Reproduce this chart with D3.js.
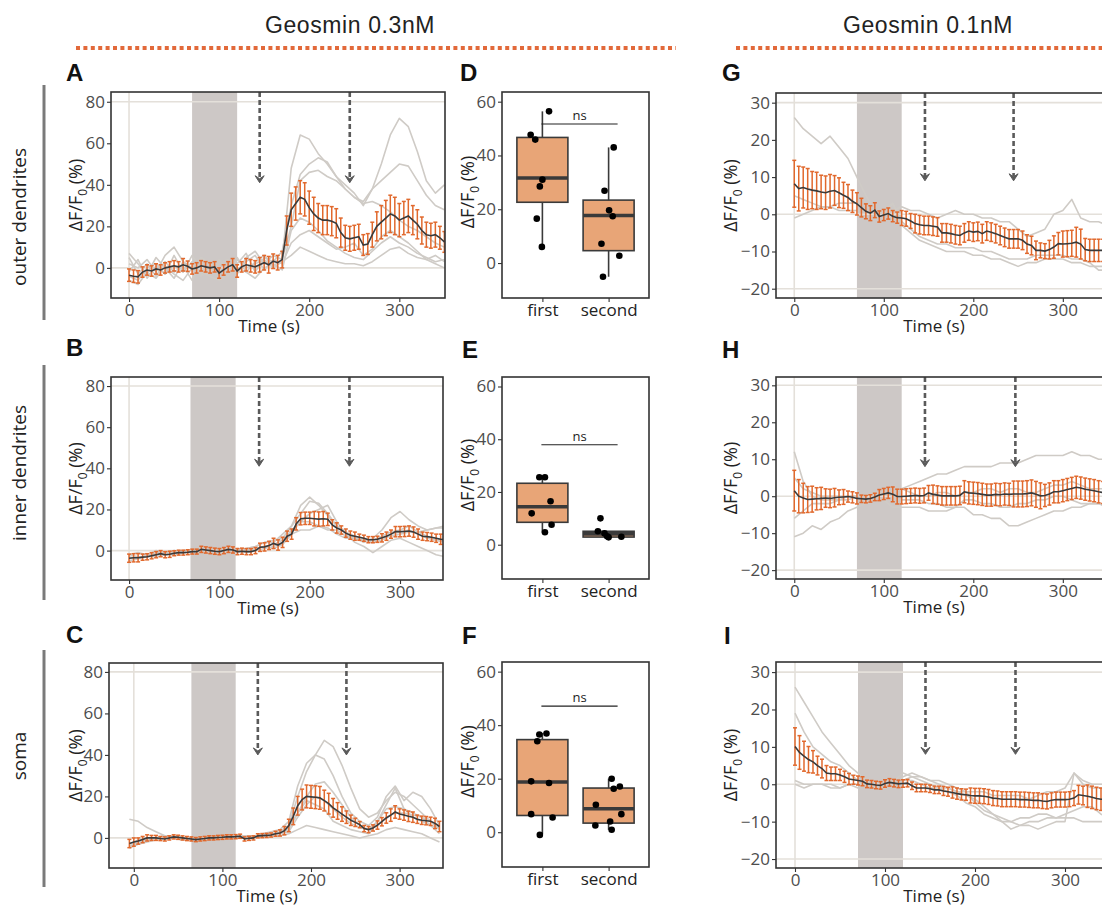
<!DOCTYPE html>
<html>
<head>
<meta charset="utf-8">
<script src="https://cdn.jsdelivr.net/npm/d3@7"></script>
<style>
  body { margin: 0; background: #fff; }
  svg { display: block; }
</style>
</head>
<body>
<svg id="fig" width="1102" height="909"></svg>
<script>
// ---- sampling grids (s) ----
const tFine = d3.range(0, 351, 5);     // mean / sem every 5 s
const tCoarse = d3.range(0, 351, 10);  // single traces every 10 s

// ---- A: outer dendrites, 0.3 nM ----
const aMean = [-3.5,-4,-4.3,-2,-1,-1.5,-0.5,-1,0,0.5,
  1,0.5,1.5,0.8,-0.5,0,1,0.5,0,0.5,
  -2.5,-1,0.5,1.5,-1.5,0.5,1.5,1,0.5,1.5,
  2.5,1.5,3.2,2.5,4,18,28,31,34,33,
  29,26,24,23,23,22.5,21.5,17,14.5,14,
  14.5,15,11,11.5,16,20,22,24,26,25,
  23,24,25,23,21,18,16,15.5,16,14.5,
  12.5];
const aErr = [3,3,3,2.5,2.5,2.5,2.5,2.5,2.5,2.5,
  2.5,2.5,3,2.5,2.5,2.5,2.5,2.5,2.5,2.5,
  2.5,2.5,2.5,3,3,2.5,3,3,3,3.5,
  3.5,4,3.5,3.5,4,7,8,8,8,8,
  8,8,7,7,7,7,7,7,6,6,
  6,6,5,5,6,7,8,8.5,9,9,
  8,8,8,7,7,6.5,6,6,6,5.5,
  5];
const aTraces = [
  [5,-3,2,-4,3,-2,1,-6,2,-1, 4,0,-3,5,8,2,6,4,48,64, 62,55,50,44,38,34,31,32,30,27, 23,20,18,15,12,10],
  [-2,4,-5,1,-3,6,-2,3,-4,0, -3,2,5,-2,3,6,1,4,20,42, 46,47,44,42,38,34,32,38,50,64, 72,68,56,42,36,40],
  [7,2,-3,5,0,-5,3,-1,5,2, 0,-4,2,7,-2,5,3,8,30,45, 50,53,51,44,40,36,30,38,42,46, 50,49,42,35,30,28],
  [-6,-8,-2,-5,1,-3,-6,0,-2,-4, -6,-3,0,-2,-5,0,2,-1,18,24, 22,18,13,10,7,5,4,8,12,15, 12,10,7,5,3,4],
  [2,0,4,-2,6,10,3,0,-3,1, 3,-2,4,0,2,4,0,3,6,10, 8,6,4,3,2,2,1,3,6,9, 10,7,5,4,6,3],
  [-4,-6,0,2,-3,1,-2,6,0,-2, 2,4,-1,3,6,-1,4,2,12,16, 18,15,12,9,10,12,6,9,15,18, 15,12,8,4,2,0]
];

// ---- B: inner dendrites, 0.3 nM ----
const bMean = [-3.7,-3.5,-3.5,-3.2,-3,-2.5,-2,-1.5,-2,-1.8,
  -1.3,-1,-1,-0.8,-0.5,-0.5,0.6,0.3,0,-0.3,
  -0.5,0,0.6,0.3,-0.5,-0.3,-0.5,-0.5,0,1.6,
  1.8,2.5,3.5,2.7,4,7,8,13,15.5,15.7,
  15.7,15.5,15.3,15.5,15.2,12.5,11,10,8.5,7.5,
  7,6.5,6,5.3,5.3,5.5,6.2,7,8,9.2,
  9.2,9.3,9.5,9,8,7,6.8,6.5,6,5.5,
  5.2];
const bErr = [2,2,2,1.5,1.5,1.5,1.5,1.5,1.5,1.5,
  1.2,1.2,1.2,1.2,1.2,1.2,1.5,1.5,1.5,1.5,
  1.5,1.5,1.5,1.5,1.5,1.5,1.5,1.5,1.5,2,
  2,2,2.5,2.5,2.5,2.5,2.5,3,3,3,
  3,3.5,3.5,3.5,3,2.5,2.5,2,2,2,
  2,1.5,1.5,1.5,1.5,1.5,2,2,2,2.5,
  2.5,2.5,2.5,2.5,2.5,2,2,2,2,2.5,
  2.5];
const bTraces = [
  [-2,-1,-2,0,-1,0,-1,0,1,0, 1,0,0,1,2,4,5,6,12,22, 26,22,17,12,9,6,4,6,10,16, 19,15,12,10,11,12],
  [-5,-4,-3,-3,-2,-2,-1,0,0,-1, -1,0,-1,0,1,2,3,5,10,14, 18,20,22,14,8,4,2,-1,2,5, 6,4,2,0,-2,-3],
  [-3,-4,-2,-2,-1,0,-1,-1,0,1, 0,1,0,1,2,4,4,8,12,18, 24,23,18,12,9,7,6,5,7,9, 10,12,9,7,5,6],
  [-4,-3,-3,-1,-1,-1,0,0,1,0, -1,0,1,0,1,2,1,3,8,10, 10,12,11,8,6,6,5,4,5,8, 9,10,8,6,5,4],
  [-2,-3,-3,-2,-2,-1,-1,0,0,0, 0,0,0,-1,0,1,2,4,9,14, 14,12,10,10,7,6,5,5,6,7, 8,9,9,10,11,11]
];

// ---- C: soma, 0.3 nM (time axis of this panel starts at -5 s) ----
const cMean = [-2.7,-2,-1.5,-0.8,0,0,0,-0.3,-0.5,0,
  0.5,0.3,0,-0.3,-0.5,-0.8,-0.5,-0.3,0,0,
  0.2,0.3,0.5,0.5,0.6,0.8,-0.5,-0.2,0,1,
  1.1,1.2,1.4,2,2.4,3.5,6,10.4,15.5,18.5,
  20,19.8,19.6,19.3,18,16.5,14.5,13,11.5,10,
  8.5,7.5,6.4,4.5,4,4.8,6.2,7.8,9.6,11,
  12.5,11.5,11,10.4,10,9,8.5,8.3,8,7,
  5.5];
const cErr = [2,2,1.5,1.5,1.5,1.2,1.2,1,1,1,
  1,1,1,1,1,1,1,1,1,1,
  1,1,1,1,1,1,1,1,1,1,
  1,1,1,1.2,1.5,2,3,4,4.5,5,
  5.5,5.5,5.5,5.5,5,5,4.5,4,3.5,3,
  2.5,2,1.5,1.5,1.5,1.5,2,2,2.5,3,
  3,2.5,2.5,2.5,2.5,2,2,2,2,2.5,
  2.5];
const cTraces = [
  [-4,-2,-1,0,0,1,0,-1,0,0, 0,1,0,0,1,1,2,3,6,20, 32,40,47,44,35,24,14,10,12,18, 22,20,16,12,8,6],
  [-3,-1,0,0,1,0,-1,0,0,1, 0,0,1,1,0,2,3,4,8,25, 36,40,38,30,20,12,8,6,10,20, 25,18,22,20,14,6],
  [9,8,5,3,1,0,0,-1,0,0, 0,1,0,0,0,1,1,2,4,12, 20,26,27,22,16,10,6,4,8,14, 15,14,12,10,6,2],
  [-5,-3,-2,-1,0,0,0,0,1,0, 0,0,0,1,1,1,2,2,3,10, 16,20,18,14,10,7,5,4,6,10, 12,12,11,10,8,4],
  [-4,-3,-1,0,0,0,-1,0,0,0, 0,0,0,0,0,1,1,1,2,4, 6,5,4,3,2,1,0,1,2,4, 5,4,3,2,0,-2],
  [-3,-2,-1,0,1,0,0,-1,0,0, 1,0,0,1,0,1,2,2,5,12, 18,16,14,8,6,4,3,2,8,16, 24,14,10,8,6,5]
];

// ---- G: outer dendrites, 0.1 nM ----
const gMean = [8.2,6.9,7.2,6.8,6.5,6.3,6,5.8,6.2,6.4,
  5.8,5.1,4.5,3.5,2.8,1.8,0.8,0.3,1.1,-0.6,
  -0.2,0.2,-0.5,-0.9,-1,-1.2,-1.8,-2.5,-2.8,-3,
  -3,-3.2,-3.4,-5,-5,-5.2,-5.5,-5.7,-5,-4.5,
  -4.8,-4.6,-5.2,-4.5,-4.8,-5.2,-5.7,-6.2,-6.6,-6.6,
  -6.6,-7,-8,-8.4,-9.7,-9.7,-9.9,-9.5,-8.8,-7.9,
  -8,-7.9,-7.8,-7.5,-8,-9.5,-9.7,-9.7,-9.7,-9.7,
  -9.8];
const gErr = [6.3,6,5.5,5.5,5,5,4.5,4.5,4.5,4,
  4,3.5,3.5,3,3,2.5,2,2,2,1.5,
  1.5,1.5,1.5,1.5,2,2,2,2.5,2.5,2.5,
  2.5,2.5,2.5,2.5,2.5,2.5,2.5,2.5,2.5,2.5,
  2.5,2.5,2.5,2.5,2.5,2.5,2.5,2.5,2.5,2.5,
  2.5,2.5,2.5,2.5,2.5,2,2,2.5,3,3,
  3.5,3.5,3.5,4,4,3,3,3,3,3,
  3];
const gTraces = [
  [26,23,21,19,21,18,15,10,5,1, 0,3,-3,-5,-7,-8,-9,-10,-10,-10, -11,-11,-12,-12,-13,-14,-13,-13,-12,-12, -12,-13,-13,-14,-14,-14],
  [-1,0,1,2,2,3,3,3,2,1, 0,1,2,1,1,0,-1,0,1,0, 0,-1,-1,-2,-2,-4,-6,-5,-4,0, 1,4,-1,-2,-2,-3],
  [5,4,3,2,2,1,1,1,1,0, 1,3,-2,-4,-6,-7,-8,-8,-9,-9, -9,-10,-10,-11,-12,-12,-12,-11,-11,-11, -11,-12,-12,-13,-15,-15]
];

// ---- H: inner dendrites, 0.1 nM ----
const hMean = [1.5,0,-0.5,-0.9,-0.8,-0.7,-0.6,-0.5,-0.6,-0.4,
  -0.3,-0.2,-0.1,-0.3,-0.6,-0.7,-0.8,-0.6,-0.2,0.3,
  0.6,0.9,0.5,-0.1,-0.1,0,0.1,0.2,0.1,0.2,
  0.9,0.5,0.3,0.1,0.1,0.1,0.1,0.2,1.2,0.9,
  0.8,0.7,0.5,0.3,0.3,0.5,0.4,0.6,0.5,0.6,
  0.6,0.6,0.7,0.9,0.5,0.1,0.2,0.6,1.2,1.2,
  1.5,1.8,2.1,2.4,2.2,1.9,1.7,1.5,1.2,1,
  0.8];
const hErr = [5.5,4.5,4,3.5,3.5,3,3,2.5,2.5,2.5,
  2,2,1.5,1.5,1.5,1,1,1,1,1.5,
  1.5,1.5,2,2,2,2,2,2,2,2,
  2,2.5,2.5,2.5,2.5,2.5,2.5,2.5,3,3,
  3,3,3,3,3,3,3,3,3,3.5,
  3.5,3.5,3.5,3.5,3.5,3.5,3,3,3,3,
  3,3,3,3,3,3,3,3,3,3,
  3];
const hTraces = [
  [12,4,0,-1,-1,-1,0,0,0,1, 1,1,2,3,4,5,6,6,7,8, 8,8,8,9,9,9,10,11,11,11, 11,12,11,11,10,10],
  [-11,-10,-8,-9,-7,-6,-4,-3,-2,0, -1,-3,-3,-3,-3,-4,-4,-4,-3,-3, -5,-5,-6,-6,-8,-8,-7,-6,-5,-4, -4,-3,-3,-2,-2,-3],
  [-6,-4,-2,-2,-2,-1,-1,0,-1,0, 1,0,-1,-1,-1,-2,-2,-3,-3,-1, -1,-2,-2,-3,-3,-2,-2,-1,-1,0, 0,-1,-2,-2,-2,-3],
  [5,2,1,0,0,0,0,0,-1,0, 1,1,2,1,0,0,1,1,0,1, 1,2,2,1,2,2,1,1,2,3, 3,4,3,2,2,2]
];

// ---- I: soma, 0.1 nM ----
const iMean = [10.1,8.5,7.5,6.6,6,5,4.2,3,2.8,2.8,
  2.5,2,1.4,1.2,1,0.8,0.1,0,-0.2,-0.3,
  0.2,0.5,0.3,0.1,0.2,0.3,-0.4,-1,-1,-1,
  -1.2,-1.5,-1.5,-1.8,-2,-2.2,-2.5,-2.7,-2.8,-3,
  -3.1,-3.1,-3.2,-3.4,-3.7,-3.8,-4,-4,-4,-4,
  -4.1,-4.1,-4.2,-4.3,-4.3,-4.5,-4.6,-4.3,-4.1,-4.1,
  -4.1,-4,-3.7,-2.8,-3,-3.2,-3.5,-3.8,-4,-4.1,
  -4.2];
const iErr = [5,4.5,4,3.5,3,2.5,2.5,2,1.8,1.8,
  1.5,1.5,1.5,1.2,1.2,1.2,1,1,1,1,
  1,1,1,1,1,1,1,1,1,1,
  1,1,1,1.2,1.2,1.5,1.5,1.5,1.5,2,
  2,2,2,2,2,2,2,2,2,2,
  2,2,2,2,2,2,2,2,2,2,
  2,2,2,2.5,2.5,3,3,3,3,3,
  3];
const iTraces = [
  [26,22,18,14,11,8,5,3,1,0, -1,0,1,2,1,0,-1,-2,-3,-5, -6,-8,-9,-10,-10,-9,-9,-8,-8,-9, -9,-9,-10,-10,-10,-10],
  [19,14,10,8,6,5,3,1,0,-1, 0,0,2,3,2,1,0,-1,-2,-3, -4,-6,-8,-9,-10,-11,-10,-10,-9,-9, -8,-7,-6,-6,-8,-9],
  [1,0,0,0,0,-1,0,0,0,-1, 0,1,3,2,2,1,1,0,-1,-2, -5,-7,-8,-10,-12,-11,-11,-12,-11,-10, -10,3,0,-1,-1,-2],
  [0,-1,0,0,-1,-1,0,-1,0,-1, 0,0,1,1,0,-1,-1,-1,-2,-2, -2,-2,-3,-3,-3,-3,-4,-3,-2,-2, -1,3,1,0,0,0]
];

// ---- box plots D/E/F: [min, q1, median, q3, max] ----
const groups = ["first", "second"];
const dBox = [[5.6,22.6,31.6,46.7,56.4], [-5.1,4.6,17.7,23.4,43]];
const dDots = [[56.4,47.7,45.9,31,28.5,16.5,6], [43,26.9,19.6,17.4,7.2,2.7,-5.1]];
const dJitter = [[0.13,-0.23,-0.14,0,-0.05,-0.11,-0.01], [0.1,-0.08,0.01,0.08,-0.14,0.21,-0.11]];
const eBox = [[4.7,8.5,14.4,23.3,25.6], [2.8,2.9,4.1,5.1,5.2]];
const eDots = [[25.6,25.6,16.5,11.9,7.6,4.7], [10,5.1,4.3,2.8,3,3.2]];
const eJitter = [[-0.06,0.05,0.16,-0.21,0.18,0.05], [-0.16,-0.21,-0.08,0,0.25,-0.03]];
const fBox = [[-0.75,6.25,18.75,34.6,37.1], [0.9,3.4,8.75,16.5,20]];
const fDots = [[36.9,36.5,34,19,18.4,6.75,5.5,-1], [20,17.1,16.25,10.25,6.75,4,2.5,0.9]];
const fJitter = [[0.08,-0.06,-0.1,-0.22,0.13,-0.22,0.2,-0.05], [0.06,0.22,0.1,-0.25,0.25,0.03,-0.26,0.06]];
const nsLevel = [51.7, 37.9, 47.1];

// colours
const ORANGE = "#e1692d";
const BOXFILL = "#e8a577";
const TRACE = "#cfcbc6";
const GRID = "#e4e0da";
const SHADE = "#cdc8c6";
const DARK = "#3a3a3a";

const svg = d3.select("#fig");
const FONT = "'Open Sans', 'DejaVu Sans', sans-serif";
svg.attr("font-family", FONT);

let clipN = 0;

function styleAxis(g, color) {
  g.select(".domain").remove();
  g.selectAll(".tick line").attr("stroke", "#333").attr("stroke-width", 1.1);
  g.selectAll(".tick text").attr("font-size", 17).attr("fill", color || "#4d4d4d").attr("font-family", FONT);
}

function yLabel(cx, cy) {
  const t = svg.append("text")
    .attr("transform", "translate(" + cx + "," + cy + ") rotate(-90)")
    .attr("text-anchor", "middle")
    .attr("font-size", 18)
    .attr("fill", "#222");
  t.append("tspan").text("\u0394F/F");
  t.append("tspan").text("0").attr("font-size", 12).attr("dy", 5);
  t.append("tspan").text(" (%)").attr("dy", -5);
}

function arrow(g, x, yTop, yTip) {
  g.append("line")
    .attr("x1", x).attr("x2", x)
    .attr("y1", yTop).attr("y2", yTip - 4)
    .attr("stroke", "#5a5a5a").attr("stroke-width", 2.6)
    .attr("stroke-dasharray", "5,3");
  g.append("path")
    .attr("d", "M" + (x - 4.5) + "," + (yTip - 7) + " L" + x + "," + yTip + " L" + (x + 4.5) + "," + (yTip - 7) + " L" + x + "," + (yTip - 4) + " Z")
    .attr("fill", "#5a5a5a").attr("stroke", "#5a5a5a").attr("stroke-width", 1);
}

function drawTracePanel(p) {
  const [l, t, r, b] = p.box;
  const x = d3.scaleLinear().domain(p.xd).range([l, r]);
  const y = d3.scaleLinear().domain(p.yd).range([b, t]);
  const id = "clip" + (clipN++);
  svg.append("clipPath").attr("id", id)
    .append("rect").attr("x", l).attr("y", t).attr("width", r - l).attr("height", b - t);
  const g = svg.append("g").attr("clip-path", "url(#" + id + ")");

  g.append("rect")
    .attr("x", x(p.shade[0])).attr("y", t)
    .attr("width", x(p.shade[1]) - x(p.shade[0])).attr("height", b - t)
    .attr("fill", SHADE);

  g.selectAll(".hl").data(p.hl).enter().append("line")
    .attr("x1", l).attr("x2", r)
    .attr("y1", d => y(d)).attr("y2", d => y(d))
    .attr("stroke", GRID).attr("stroke-width", 1.6);
  g.append("line")
    .attr("x1", x(0)).attr("x2", x(0)).attr("y1", t).attr("y2", b)
    .attr("stroke", GRID).attr("stroke-width", 1.6);

  const fine = tFine.map(v => v + p.shift);
  const coarse = tCoarse.map(v => v + p.shift);

  const traceLine = d3.line().x((d, i) => x(coarse[i])).y(d => y(d));
  g.selectAll(".tr").data(p.traces).enter().append("path")
    .attr("d", traceLine)
    .attr("fill", "none").attr("stroke", TRACE).attr("stroke-width", 1.6)
    .attr("stroke-linejoin", "round");

  const eb = g.selectAll(".eb").data(p.mean).enter().append("g");
  eb.append("line")
    .attr("x1", (d, i) => x(fine[i])).attr("x2", (d, i) => x(fine[i]))
    .attr("y1", (d, i) => y(d - p.err[i])).attr("y2", (d, i) => y(d + p.err[i]))
    .attr("stroke", ORANGE).attr("stroke-width", 1.5);
  [-1, 1].forEach(s => {
    eb.append("line")
      .attr("x1", (d, i) => x(fine[i]) - 2).attr("x2", (d, i) => x(fine[i]) + 2)
      .attr("y1", (d, i) => y(d + s * p.err[i])).attr("y2", (d, i) => y(d + s * p.err[i]))
      .attr("stroke", ORANGE).attr("stroke-width", 1.5);
  });

  g.append("path")
    .datum(p.mean)
    .attr("d", d3.line().x((d, i) => x(fine[i])).y(d => y(d)))
    .attr("fill", "none").attr("stroke", DARK).attr("stroke-width", 1.6);

  p.arrows.forEach(a => arrow(g, x(a), t, y(p.tip)));

  svg.append("rect")
    .attr("x", l).attr("y", t).attr("width", r - l).attr("height", b - t)
    .attr("fill", "none").attr("stroke", "#333").attr("stroke-width", 1.6);

  const ya = svg.append("g").attr("transform", "translate(" + l + ",0)")
    .call(d3.axisLeft(y).tickValues(p.yt).tickSize(4).tickPadding(2));
  styleAxis(ya);
  const xa = svg.append("g").attr("transform", "translate(0," + b + ")")
    .call(d3.axisBottom(x).tickValues([0, 100, 200, 300]).tickSize(4).tickPadding(2));
  styleAxis(xa);

  svg.append("text")
    .attr("x", (l + r) / 2 - 9).attr("y", b + 34)
    .attr("text-anchor", "middle").attr("font-size", 17).attr("fill", "#222")
    .text("Time (s)");
  yLabel(p.labelX, (t + b) / 2);
}

function drawBoxPanel(p) {
  const [l, t, r, b] = p.box;
  const x = d3.scalePoint().domain(groups).range([l, r]).padding(0.61);
  const y = d3.scaleLinear().domain([-13, 63.6]).range([b, t]);
  const bw = 51;
  const g = svg.append("g");

  groups.forEach((grp, k) => {
    const s = p.box5[k];
    const cx = x(grp);
    g.append("line")
      .attr("x1", cx).attr("x2", cx).attr("y1", y(s[0])).attr("y2", y(s[4]))
      .attr("stroke", DARK).attr("stroke-width", 1.6);
    g.append("rect")
      .attr("x", cx - bw / 2).attr("width", bw)
      .attr("y", y(s[3])).attr("height", y(s[1]) - y(s[3]))
      .attr("fill", BOXFILL).attr("stroke", DARK).attr("stroke-width", 1.6);
    g.append("line")
      .attr("x1", cx - bw / 2).attr("x2", cx + bw / 2)
      .attr("y1", y(s[2])).attr("y2", y(s[2]))
      .attr("stroke", DARK).attr("stroke-width", 3.6);
    g.selectAll(".dot" + k).data(p.dots[k]).enter().append("circle")
      .attr("cx", (d, i) => cx + p.jitter[k][i] * bw)
      .attr("cy", d => y(d))
      .attr("r", 3.3).attr("fill", "#000");
  });

  const yNs = y(p.ns);
  g.append("line")
    .attr("x1", x("first") - 1).attr("x2", x("second") + 9)
    .attr("y1", yNs).attr("y2", yNs)
    .attr("stroke", "#222").attr("stroke-width", 1.2);
  g.append("text")
    .attr("x", (x("first") + x("second")) / 2 + 4).attr("y", yNs - 4)
    .attr("text-anchor", "middle").attr("font-size", 13).attr("fill", "#222")
    .text("ns");

  svg.append("rect")
    .attr("x", l).attr("y", t).attr("width", r - l).attr("height", b - t)
    .attr("fill", "none").attr("stroke", "#333").attr("stroke-width", 1.6);

  const ya = svg.append("g").attr("transform", "translate(" + l + ",0)")
    .call(d3.axisLeft(y).tickValues([0, 20, 40, 60]).tickSize(4).tickPadding(2));
  styleAxis(ya);
  const xa = svg.append("g").attr("transform", "translate(0," + b + ")")
    .call(d3.axisBottom(x).tickSize(4).tickPadding(2));
  styleAxis(xa, "#222");

  yLabel(474, (t + b) / 2 - 3);
}

// ---- headers ----
const headers = [
  { text: "Geosmin 0.3nM", cx: 350, x1: 76, x2: 676 },
  { text: "Geosmin 0.1nM", cx: 928, x1: 736, x2: 1110 }
];
headers.forEach(h => {
  svg.append("text")
    .attr("x", h.cx).attr("y", 33)
    .attr("text-anchor", "middle")
    .attr("font-family", "'Liberation Sans', Arial, sans-serif")
    .attr("font-size", 23).attr("fill", "#222")
    .attr("letter-spacing", 0.6)
    .text(h.text);
  svg.append("line")
    .attr("x1", h.x1).attr("x2", h.x2).attr("y1", 48).attr("y2", 48)
    .attr("stroke", "#e2693a").attr("stroke-width", 4)
    .attr("stroke-dasharray", "4,3.4");
});

// ---- row labels ----
const rows = [
  { text: "outer dendrites", y1: 85, y2: 320, cy: 217 },
  { text: "inner dendrites", y1: 365, y2: 600, cy: 473 },
  { text: "soma", y1: 650, y2: 887, cy: 756 }
];
rows.forEach(rw => {
  svg.append("line")
    .attr("x1", 44).attr("x2", 44).attr("y1", rw.y1).attr("y2", rw.y2)
    .attr("stroke", "#7a7a7a").attr("stroke-width", 3);
  svg.append("text")
    .attr("transform", "translate(26," + rw.cy + ") rotate(-90)")
    .attr("text-anchor", "middle").attr("font-size", 19).attr("fill", "#222")
    .text(rw.text);
});

// ---- panels ----
const tracePanels = [
  { box: [111, 92, 445, 298], xd: [-20, 350.7], yd: [-14.5, 84.7], yt: [0, 20, 40, 60, 80], hl: [0, 80],
    shift: 0, mean: aMean, err: aErr, traces: aTraces, shade: [70, 120], arrows: [145, 245], tip: 41, labelX: 82 },
  { box: [111, 377, 443, 580], xd: [-20, 347.6], yd: [-14.3, 84.4], yt: [0, 20, 40, 60, 80], hl: [0, 80],
    shift: 0, mean: bMean, err: bErr, traces: bTraces, shade: [68, 118], arrows: [144, 244], tip: 41, labelX: 82 },
  { box: [109, 663, 443, 868], xd: [-28, 349], yd: [-14.5, 84.3], yt: [0, 20, 40, 60, 80], hl: [0, 80],
    shift: -5, mean: cMean, err: cErr, traces: cTraces, shade: [65, 115], arrows: [140, 240], tip: 40, labelX: 82 },
  { box: [776, 93, 1110, 298], xd: [-20.4, 352.7], yd: [-22.5, 32.6], yt: [-20, -10, 0, 10, 20, 30], hl: [-20, 0, 30],
    shift: 0, mean: gMean, err: gErr, traces: gTraces, shade: [70, 120], arrows: [146, 245], tip: 9, labelX: 737 },
  { box: [776, 377, 1110, 579], xd: [-20.4, 352.7], yd: [-22.4, 32.25], yt: [-20, -10, 0, 10, 20, 30], hl: [-20, 0, 30],
    shift: 0, mean: hMean, err: hErr, traces: hTraces, shade: [70, 120], arrows: [146, 247], tip: 8, labelX: 737 },
  { box: [776, 662, 1110, 868], xd: [-21.1, 350], yd: [-22.4, 32.7], yt: [-20, -10, 0, 10, 20, 30], hl: [-20, 0, 30],
    shift: 0, mean: iMean, err: iErr, traces: iTraces, shade: [70, 120], arrows: [145, 245], tip: 8, labelX: 737 }
];
tracePanels.forEach(drawTracePanel);

const boxPanels = [
  { box: [502, 92, 649, 298], box5: dBox, dots: dDots, jitter: dJitter, ns: nsLevel[0] },
  { box: [502, 377, 649, 579], box5: eBox, dots: eDots, jitter: eJitter, ns: nsLevel[1] },
  { box: [502, 662, 649, 867], box5: fBox, dots: fDots, jitter: fJitter, ns: nsLevel[2] }
];
boxPanels.forEach(drawBoxPanel);

// ---- panel letters ----
const letters = [
  ["A", 66, 81], ["B", 66, 356], ["C", 66, 643],
  ["D", 460, 81], ["E", 462, 358], ["F", 462, 644],
  ["G", 722, 81], ["H", 722, 358], ["I", 724, 644]
];
svg.selectAll(".letter").data(letters).enter().append("text")
  .attr("x", d => d[1]).attr("y", d => d[2])
  .attr("font-family", "'Liberation Sans', Arial, sans-serif")
  .attr("font-weight", "bold").attr("font-size", 24).attr("fill", "#111")
  .text(d => d[0]);
</script>
</body>
</html>
